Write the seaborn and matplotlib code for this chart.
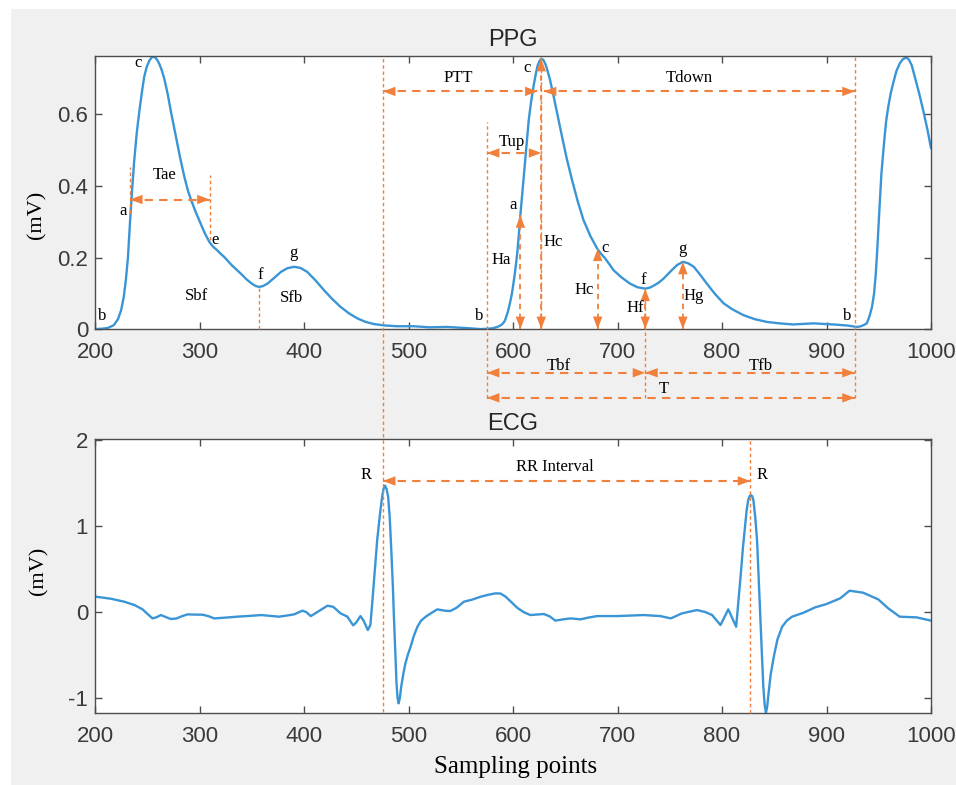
import pandas as pd
import matplotlib.pyplot as plt
import seaborn as sns
from matplotlib.patches import Rectangle

# PPG waveform (sampling point, mV)
ppg_x = [200, 206, 212, 218, 222, 225, 227.5, 229.5, 231.5, 233.5, 235.5, 237.5, 240, 242.5,
         245, 247, 249.5, 252, 254, 255.5, 257.5, 259.5, 261.5, 264, 266.5, 269.5, 273, 277.5,
         281.5, 285.5, 289, 292, 296.5, 301, 305, 309.5, 313, 317, 320, 323.5, 331, 339.5,
         345, 350, 354, 357, 360.5, 365, 371, 378, 384, 390.5, 396.5, 403, 411, 419, 427,
         435, 443, 451, 459, 467, 478, 489, 505, 520, 537, 555, 569, 580, 585, 589, 591.5,
         593, 595, 597, 599, 601.5, 604, 605.5, 607, 609, 611, 613, 615, 617.5, 620, 622,
         623.5, 625.5, 627, 629, 631, 632.5, 635.5, 639, 643, 647, 651.5, 656.5, 662, 667.5,
         674, 680.5, 684, 688, 692, 696, 704, 712, 719, 726.5, 731, 735, 739.5, 744, 748,
         752, 757, 762.5, 767.5, 773, 779, 785.5, 793, 801.5, 810, 820.5, 831, 843, 855,
         868, 887.5, 906.5, 920, 929, 933, 936, 938.5, 941, 943.5, 945.5, 947, 948.5, 950.5,
         952.5, 955, 957, 959, 961.5, 964, 967, 970, 973, 976.5, 979, 981.5, 984.5, 988.5,
         992.5, 996.5, 1000]
ppg_y = [0.0, 0.001, 0.003, 0.011, 0.028, 0.053, 0.09, 0.137, 0.2, 0.3, 0.39, 0.471, 0.55,
         0.611, 0.665, 0.704, 0.733, 0.750, 0.758, 0.761, 0.759, 0.752, 0.741, 0.722, 0.697,
         0.657, 0.602, 0.536, 0.478, 0.425, 0.386, 0.36, 0.326, 0.295, 0.268, 0.243, 0.23,
         0.22, 0.211, 0.202, 0.178, 0.155, 0.139, 0.127, 0.12, 0.118, 0.12, 0.127, 0.142,
         0.16, 0.17, 0.174, 0.171, 0.16, 0.136, 0.109, 0.084, 0.062, 0.044, 0.03, 0.02,
         0.014, 0.01, 0.008, 0.008, 0.005, 0.006, 0.003, 0.0, 0.002, 0.006, 0.012, 0.02,
         0.03, 0.048, 0.072, 0.1, 0.15, 0.211, 0.262, 0.318, 0.385, 0.453, 0.52, 0.583,
         0.64, 0.685, 0.716, 0.736, 0.75, 0.755, 0.752, 0.74, 0.727, 0.695, 0.648, 0.592,
         0.536, 0.475, 0.416, 0.356, 0.304, 0.26, 0.225, 0.211, 0.198, 0.182, 0.165, 0.144,
         0.127, 0.117, 0.113, 0.116, 0.122, 0.13, 0.141, 0.153, 0.165, 0.179, 0.188, 0.184,
         0.174, 0.152, 0.127, 0.099, 0.072, 0.055, 0.039, 0.028, 0.02, 0.016, 0.013, 0.016,
         0.013, 0.01, 0.006, 0.008, 0.012, 0.016, 0.035, 0.062, 0.1, 0.15, 0.22, 0.33,
         0.434, 0.52, 0.58, 0.62, 0.66, 0.69, 0.722, 0.742, 0.754, 0.759, 0.752, 0.737,
         0.704, 0.66, 0.611, 0.558, 0.505]

# ECG waveform (sampling point, mV)
ecg_x = [200, 215, 228, 238, 245.5, 250, 255, 259, 263, 268, 272.5, 278, 282, 288.5, 296, 303,
         309, 314, 325, 336, 348, 359, 368, 376, 384, 390.5, 398.5, 402, 406.5, 414, 422.5,
         428, 435, 441.5, 447, 450, 454, 457, 461, 463.5, 465.5, 467.5, 470, 472.5, 474.5,
         476, 477.5, 479, 480.5, 482, 483.5, 485, 486, 487.3, 488.5, 489.5, 490.5, 491.7,
         493, 495, 497, 499.5, 502, 505, 508.5, 512, 516.5, 522, 527.5, 535, 540, 546, 553,
         561, 569, 576, 583, 588, 593, 604, 610, 616.5, 629.5, 635, 640.5, 648, 655, 664.5,
         672, 680.5, 700, 725, 741, 751, 761.5, 776, 784, 790.5, 798.5, 806, 813.5, 815.5,
         818, 820, 822, 823.5, 825, 826.5, 827.5, 828.7, 830, 831.8, 833.5, 835, 836.5, 838,
         839.5, 840.8, 842, 843.2, 844.5, 846.5, 849.5, 853, 857.5, 862, 867, 878, 889, 900,
         913, 922, 935, 949.5, 959, 970, 986, 1000]
ecg_y = [0.18, 0.155, 0.12, 0.08, 0.031, -0.02, -0.074, -0.06, -0.035, -0.06, -0.081, -0.075,
         -0.054, -0.027, -0.03, -0.031, -0.05, -0.074, -0.065, -0.054, -0.045, -0.035, -0.045,
         -0.054, -0.04, -0.027, 0.016, 0.0, -0.047, 0.01, 0.074, 0.06, -0.016, -0.054, -0.155,
         -0.12, -0.047, -0.1, -0.209, -0.15, 0.14, 0.45, 0.837, 1.12, 1.32, 1.43, 1.47, 1.43,
         1.34, 1.1, 0.72, 0.3, -0.054, -0.45, -0.83, -1.0, -1.062, -1.0, -0.868, -0.72,
         -0.597, -0.49, -0.403, -0.28, -0.171, -0.1, -0.054, -0.01, 0.031, 0.015, 0.012,
         0.05, 0.12, 0.145, 0.178, 0.2, 0.217, 0.215, 0.178, 0.05, 0.0, -0.035, -0.023,
         -0.05, -0.1, -0.085, -0.074, -0.085, -0.065, -0.047, -0.047, -0.035, -0.047, -0.074,
         -0.016, 0.023, 0.0, -0.035, -0.151, 0.031, -0.171, 0.1, 0.45, 0.75, 0.992, 1.18,
         1.302, 1.35, 1.36, 1.35, 1.302, 1.1, 0.837, 0.4, -0.016, -0.45, -0.868, -1.08,
         -1.175, -1.1, -0.946, -0.73, -0.52, -0.32, -0.171, -0.1, -0.054, -0.008, 0.054,
         0.093, 0.159, 0.248, 0.225, 0.147, 0.043, -0.054, -0.062, -0.1]

x_ticks = [200, 300, 400, 500, 600, 700, 800, 900, 1000]
ppg_yticks = [0, 0.2, 0.4, 0.6]
ppg_ytick_labels = ['0', '0.2', '0.4', '0.6']
ecg_yticks = [-1, 0, 1, 2]

# feature points (sampling index) used by the annotations
r1, r2 = 475.5, 827
b1, b2 = 575, 927
c_pk, a_pt, e_pt, f_pt, g_pt = 627, 607, 681, 726.5, 762.5

ppg = pd.DataFrame({'x': ppg_x, 'y': ppg_y})
ecg = pd.DataFrame({'x': ecg_x, 'y': ecg_y})

sns.set_style("ticks")
plt.rcParams['font.family'] = ['Liberation Sans', 'DejaVu Sans']
plt.rcParams['axes.unicode_minus'] = False

BLUE = '#3a95d6'
ORANGE = '#f0803c'
SERIF = 'Liberation Serif'
TXT = '#3a3a3a'

fig = plt.figure(figsize=(9.56, 7.85), dpi=100, facecolor='#f0f0f0')
# white margin strips of the original screenshot
fig.patches.append(Rectangle((0, 0), 10 / 956, 1, transform=fig.transFigure,
                             color='white', zorder=0))
fig.patches.append(Rectangle((0, 1 - 8 / 785), 1, 8 / 785, transform=fig.transFigure,
                             color='white', zorder=0))

ax1 = fig.add_axes([0.0994, 0.5803, 0.8745, 0.3484])
ax2 = fig.add_axes([0.0994, 0.0913, 0.8745, 0.349])
ax1.set_zorder(3)

sns.lineplot(data=ppg, x='x', y='y', ax=ax1, color=BLUE, lw=1.7, sort=False, estimator=None)
sns.lineplot(data=ecg, x='x', y='y', ax=ax2, color=BLUE, lw=1.7, sort=False, estimator=None)

for ax in (ax1, ax2):
    ax.set_xlim(200, 1000)
    ax.set_xticks(x_ticks)
    ax.tick_params(direction='in', top=True, right=True, length=5, width=1,
                   colors='#4d4d4d', labelcolor=TXT, labelsize=16)
    ax.tick_params(axis='x', pad=9)
    ax.tick_params(axis='y', pad=5)
    for s in ax.spines.values():
        s.set_color('#4d4d4d')
        s.set_linewidth(1.0)
    ax.set_facecolor('white')

ax1.set_ylim(-0.001, 0.763)
ax1.set_yticks(ppg_yticks)
ax1.set_yticklabels(ppg_ytick_labels)
ax2.set_ylim(-1.178, 2.008)
ax2.set_yticks(ecg_yticks)

ax1.set_title('PPG', fontsize=17, color='#262626', pad=7)
ax2.set_title('ECG', fontsize=17, color='#262626', pad=7)
ax1.set_xlabel('')
ax2.set_xlabel('Sampling points', fontfamily=SERIF, fontsize=18, color='black')
ax2.xaxis.set_label_coords(0.503, -0.155)
ax1.set_ylabel('(mV)', fontfamily=SERIF, fontsize=16, color='black')
ax2.set_ylabel('(mV)', fontfamily=SERIF, fontsize=16, color='black')
ax1.yaxis.set_label_coords(-0.058, 0.42)
ax2.yaxis.set_label_coords(-0.056, 0.52)


def vline(ax, x, y0, y1, lw=1.0):
    ax.plot([x, x], [y0, y1], color=ORANGE, lw=lw, ls=(0, (2.5, 2)), clip_on=False, zorder=4)


def head(ax, x, y, dx, dy):
    ax.annotate('', xy=(x, y), xytext=(x - dx, y - dy),
                arrowprops=dict(arrowstyle='-|>,head_length=0.45,head_width=0.17',
                                color=ORANGE, lw=0, shrinkA=0, shrinkB=0, mutation_scale=20),
                annotation_clip=False, zorder=5)


def harrow(ax, x0, x1, y, left=True, right=True):
    ax.plot([x0, x1], [y, y], color=ORANGE, lw=1.5, ls=(0, (4, 3)), clip_on=False, zorder=4)
    if left:
        head(ax, x0, y, -15, 0)
    if right:
        head(ax, x1, y, 15, 0)


def varrow(ax, x, y0, y1, dy=0.04):
    ax.plot([x, x], [y0, y1], color=ORANGE, lw=1.3, ls=(0, (3, 2.5)), clip_on=False, zorder=4)
    head(ax, x, y0, 0, -dy)
    head(ax, x, y1, 0, dy)


def label(ax, x, y, s, ha='center'):
    ax.text(x, y, s, ha=ha, va='center', fontfamily=SERIF, fontsize=12, color='black', zorder=6)


# ---- PPG, first beat
vline(ax1, 233.5, 0.323, 0.453)
vline(ax1, 309.7, 0.248, 0.43)
vline(ax1, 357, 0.0, 0.118)
harrow(ax1, 233.5, 309.7, 0.362)
for x, y, s in [(241.5, 0.743, 'c'), (227, 0.329, 'a'), (206.4, 0.036, 'b'),
                (267, 0.431, 'Tae'), (314.8, 0.25, 'e'), (357.9, 0.152, 'f'),
                (389.8, 0.213, 'g'), (297.3, 0.092, 'Sbf'), (388.2, 0.087, 'Sfb')]:
    label(ax1, x, y, s)

# ---- PPG, second beat
vline(ax1, r1, -1.071, 0.763)                 # PTT line down through ECG
vline(ax1, b1, -0.192, 0.578)
vline(ax1, c_pk, 0.0, 0.763)
vline(ax1, f_pt, -0.192, 0.113)
vline(ax1, b2, -0.192, 0.763)
harrow(ax1, r1, c_pk - 3.5, 0.664)
harrow(ax1, c_pk + 2.5, b2, 0.664)
harrow(ax1, b1, c_pk, 0.492)
varrow(ax1, a_pt, 0.0, 0.318)
varrow(ax1, c_pk, 0.0, 0.755)
varrow(ax1, e_pt, 0.0, 0.225)
varrow(ax1, f_pt, 0.0, 0.113)
varrow(ax1, g_pt, 0.0, 0.188)
harrow(ax1, b1, f_pt, -0.122)
harrow(ax1, f_pt, b2, -0.122)
harrow(ax1, b1, b2, -0.192)
for x, y, s in [(547.7, 0.701, 'PTT'), (613, 0.729, 'c'), (598.7, 0.524, 'Tup'),
                (599.7, 0.346, 'a'), (589, 0.194, 'Ha'), (638, 0.242, 'Hc'),
                (567.5, 0.036, 'b'), (688, 0.227, 'c'), (668, 0.11, 'Hc'),
                (724.7, 0.138, 'f'), (716.7, 0.059, 'Hf'), (762.4, 0.224, 'g'),
                (772.5, 0.093, 'Hg'), (768.7, 0.701, 'Tdown'), (920, 0.038, 'b'),
                (644, -0.103, 'Tbf'), (837, -0.103, 'Tfb'), (744.5, -0.168, 'T')]:
    label(ax1, x, y, s)

# ---- ECG
vline(ax2, r2, -1.178, 2.008)
harrow(ax2, r1, r2, 1.524)
label(ax2, 459.3, 1.59, 'R')
label(ax2, 838.6, 1.59, 'R')
label(ax2, 640.2, 1.69, 'RR Interval')

fig.savefig('out.png', dpi=100, facecolor=fig.get_facecolor())
